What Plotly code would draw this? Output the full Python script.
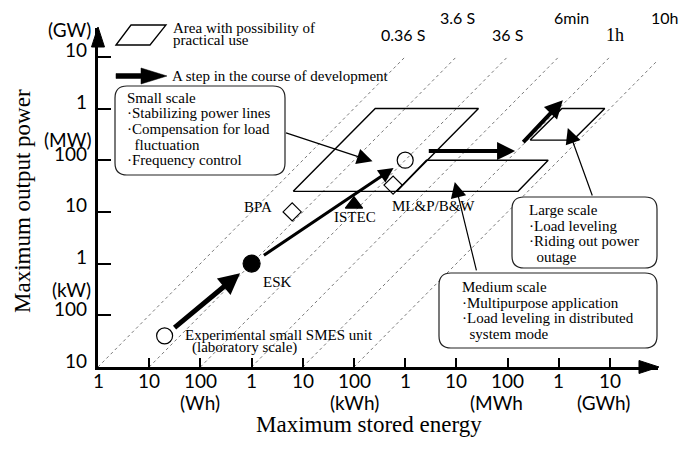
import numpy as np
import plotly.graph_objects as go

# ---------------- data ----------------
time_const_s = [0.36, 3.6, 36, 360, 3600, 36000]
time_labels = ["0.36 S", "3.6 S", "36 S", "6min", "1h", "10h"]
power_low_w, power_high_w = 1e4, 1e10

x_tick_wh = [10, 100, 1e3, 1e4, 1e5, 1e6, 1e7, 1e8, 1e9, 1e10]
x_label_wh = [1, 10, 100, 1e3, 1e4, 1e5, 1e6, 1e7, 1e8, 1e9, 1e10]
x_label_text = ["1", "10", "100", "1", "10", "100", "1", "10", "100", "1", "10"]
x_unit_text = ["(Wh)", "(kWh)", "(MWh", "(GWh)"]
x_unit_wh = [100, 1e5, 6.2e7, 7.3e9]

y_tick_w = [1e5, 1e6, 1e7, 1e8, 1e9, 1e10]
y_label_w = [1e4, 1e5, 1e6, 1e7, 1e8, 1e9, 1e10]
y_label_text = ["10", "100", "1", "10", "100", "1", "10"]
y_unit_text = ["(kW)", "(MW)", "(GW)"]
y_unit_w = [3.2e5, 2.5e8, 3.3e10]

# SMES systems
sys_names = ["Experimental small SMES unit", "ESK", "BPA", "ISTEC", "ML&P/B&W", ""]
sys_energy_wh = [20, 1e3, 6.2e3, 1e5, 5.8e5, 1e6]
sys_power_w = [4e4, 1e6, 1e7, 1.4e7, 3.3e7, 1e8]
sys_symbol = ["circle-open", "circle", "diamond-open", "triangle-up", "diamond-open", "circle-open"]

# areas with possibility of practical use (parallelograms)
area_small_e = [6.5e3, 2.6e5, 2.7e7, 6.8e5]
area_small_p = [2.5e7, 1e9, 1e9, 2.5e7]
area_medium_e = [6.8e5, 2.6e6, 6.2e8, 1.6e8]
area_medium_p = [2.5e7, 1e8, 1e8, 2.5e7]
area_large_e = [2.75e8, 1.15e9, 7.9e9, 1.9e9]
area_large_p = [2.45e8, 1e9, 1e9, 2.45e8]

# development steps (thick arrows)
step_from_e = [20, 1e3, 2.7e6, 1.9e8]
step_from_p = [4e4, 1e6, 1.5e8, 2.1e8]
step_to_e = [1e3, 1e6, 1.4e8, 1.2e9]
step_to_p = [1e6, 1e8, 1.5e8, 1.45e9]

# callout arrow tips (scale boxes -> areas)
callout_e = [2.3e5, 9.3e6, 1.5e9]
callout_p = [9.5e7, 3.8e7, 4.2e8]

small_lines = ["Small scale", "\u00b7Stabilizing power lines", "\u00b7Compensation for load",
               "  fluctuation", "\u00b7Frequency control"]
medium_lines = ["Medium scale", "\u00b7Multipurpose application",
                "\u00b7Load leveling in distributed", "  system mode"]
large_lines = ["Large scale", "\u00b7Load leveling", "\u00b7Riding out power", "  outage"]

# ---------------- layout helpers ----------------
W, H = 686, 453
L, R, T, B = 98, 28, 28, 86
PW, PH = W - L - R, H - T - B
XR = [0, PW / 51.2]
YR = [4, 4 + PH / 51.7]

SERIF = "Liberation Serif, Times New Roman, serif"
SANS = "Lato, DejaVu Sans, sans-serif"


def px(x):
    return (x - L) / PW


def py(y):
    return (H - B - y) / PH


def lg(v):
    return float(np.log10(v))


def lgx_paper(v):
    return (lg(v) - XR[0]) / (XR[1] - XR[0])


fig = go.Figure()

# constant-time dotted lines
for t in time_const_s:
    e0 = power_low_w * t / 3600.0
    e1 = power_high_w * t / 3600.0
    fig.add_trace(go.Scatter(x=[e0, e1], y=[power_low_w, power_high_w], mode="lines",
                             line=dict(color="#555", width=0.8, dash="dot"),
                             hoverinfo="skip"))

# parallelograms
for ae, ap in [(area_small_e, area_small_p), (area_medium_e, area_medium_p),
               (area_large_e, area_large_p)]:
    fig.add_trace(go.Scatter(x=ae + ae[:1], y=ap + ap[:1], mode="lines",
                             line=dict(color="black", width=1.4), hoverinfo="skip"))

# markers
for e, p, s in zip(sys_energy_wh, sys_power_w, sys_symbol):
    size = 16 if "circle" in s else (14 if "diamond" in s else 15)
    if s == "circle":
        size = 17
    fig.add_trace(go.Scatter(x=[e], y=[p], mode="markers",
                             marker=dict(symbol=s, size=size, color="black",
                                         line=dict(color="black", width=1.2)),
                             hoverinfo="skip", cliponaxis=False))

ann = []
shapes = []


def text_ann(x, y, text, xref="paper", yref="paper", xanchor="center", size=15,
             family=SERIF, **kw):
    d = dict(x=x, y=y, xref=xref, yref=yref, text=text, showarrow=False,
             xanchor=xanchor, yanchor="middle",
             font=dict(family=family, size=size, color="black"))
    d.update(kw)
    ann.append(d)


# development step arrows
step_style = [dict(w=5, s=0.85, so=15, sso=11),
              dict(w=3, s=1.0, so=14, sso=13),
              dict(w=4, s=0.9, so=0, sso=0),
              dict(w=4, s=0.9, so=0, sso=0)]
for fe, fp, te, tp, st in zip(step_from_e, step_from_p, step_to_e, step_to_p, step_style):
    ann.append(dict(x=lg(te), y=lg(tp), ax=lg(fe), ay=lg(fp), xref="x", yref="y",
                    axref="x", ayref="y", text="", showarrow=True, arrowhead=2,
                    arrowwidth=st["w"], arrowsize=st["s"], arrowcolor="black",
                    standoff=st["so"], startstandoff=st["sso"]))

# callout arrows (tail offsets in pixels)
callout_off = [(-88, -29), (22, 90), (25, 69)]
for ce, cp, (ox, oy) in zip(callout_e, callout_p, callout_off):
    ann.append(dict(x=lg(ce), y=lg(cp), xref="x", yref="y", ax=ox, ay=oy, text="",
                    showarrow=True, arrowhead=2, arrowwidth=1.2, arrowsize=2.6,
                    arrowcolor="black"))

# system labels
label_shift = [None, (26, -18), (-34, 5), (1, -13), (40, -21), None]
for name, e, p, sh in zip(sys_names, sys_energy_wh, sys_power_w, label_shift):
    if sh is None:
        continue
    text_ann(lg(e), lg(p), name, xref="x", yref="y", xshift=sh[0], yshift=sh[1])
text_ann(lg(sys_energy_wh[0]), lg(sys_power_w[0]), sys_names[0], xref="x", yref="y",
         xanchor="left", xshift=18, yshift=1)
text_ann(lg(sys_energy_wh[0]), lg(sys_power_w[0]), "(laboratory scale)", xref="x", yref="y",
         xanchor="left", xshift=25, yshift=-12)

# time-constant labels
tl_shift = [-2, 1, 0, 13, 5, 4]
tl_y = [35, 17, 35, 17, 35, 17]
for t, lab, xs, yy in zip(time_const_s, time_labels, tl_shift, tl_y):
    fam = SERIF if lab == "1h" else SANS
    text_ann(lgx_paper(power_high_w * t / 3600.0), py(yy), lab, xshift=xs,
             family=fam, size=16 if fam == SANS else 18)

# tick labels
for v, tx in zip(x_label_wh, x_label_text):
    text_ann(lgx_paper(v), py(380), tx, family=SANS, size=19)
for v, tx in zip(x_unit_wh, x_unit_text):
    text_ann(lgx_paper(v), py(402), tx, family=SANS, size=19)
for v, tx in zip(y_label_w, y_label_text):
    text_ann(px(89), lg(v), tx, yref="y", xanchor="right", family=SANS, size=19, yshift=7)
for v, tx in zip(y_unit_w, y_unit_text):
    text_ann(px(93), lg(v), tx, yref="y", xanchor="right", family=SANS, size=19)

# axis titles
text_ann(px(369), py(424), "Maximum stored energy", size=23)
text_ann(px(22), py(201), "Maximum output power", size=23, textangle=-90)


def path_px(points, close=True):
    s = "M " + " L ".join(f"{px(x):.5f},{py(y):.5f}" for x, y in points)
    return s + (" Z" if close else "")


def rounded_box(x0, y0, x1, y1, r):
    P = lambda x, y: f"{px(x):.5f},{py(y):.5f}"
    return (f"M {P(x0 + r, y0)} L {P(x1 - r, y0)} Q {P(x1, y0)} {P(x1, y0 + r)} "
            f"L {P(x1, y1 - r)} Q {P(x1, y1)} {P(x1 - r, y1)} L {P(x0 + r, y1)} "
            f"Q {P(x0, y1)} {P(x0, y1 - r)} L {P(x0, y0 + r)} Q {P(x0, y0)} {P(x0 + r, y0)} Z")


# axis arrowheads
shapes.append(dict(type="path", xref="paper", yref="paper", layer="above",
                   path=path_px([(98, 27), (91.5, 47), (104.5, 47)]),
                   fillcolor="black", line=dict(color="black", width=1)))
shapes.append(dict(type="path", xref="paper", yref="paper", layer="above",
                   path=path_px([(659, 367), (639, 360.5), (639, 373.5)]),
                   fillcolor="black", line=dict(color="black", width=1)))

# legend icons
shapes.append(dict(type="path", xref="paper", yref="paper", layer="above",
                   path=path_px([(116, 45), (131, 25), (166, 25), (150, 45)]),
                   fillcolor="rgba(0,0,0,0)", line=dict(color="black", width=1.3)))
shapes.append(dict(type="path", xref="paper", yref="paper", layer="above",
                   path=path_px([(116, 73.5), (141, 73.5), (141, 68), (167, 76), (141, 84),
                                 (141, 78.5), (116, 78.5)]),
                   fillcolor="black", line=dict(color="black", width=0.5)))
legend_text = [("Area with possibility of", 171, 28), ("practical use", 171, 40),
               ("A step in the course of development", 170, 76)]
for tx, x, y in legend_text:
    text_ann(px(x), py(y), tx, xanchor="left")

# scale boxes
boxes = [((115, 86, 285, 175), small_lines, 125, 98),
         ((439, 273, 657, 348), medium_lines, 460, 287),
         ((512, 197, 657, 268), large_lines, 527, 210)]
for (x0, y0, x1, y1), lines, tx0, ty0 in boxes:
    shapes.append(dict(type="path", xref="paper", yref="paper", layer="above",
                       path=rounded_box(x0, y0, x1, y1, 12), fillcolor="white",
                       line=dict(color="#222", width=1.2)))
    for i, ln in enumerate(lines):
        text_ann(px(tx0), py(ty0 + i * 15.5), ln.replace("  ", "&nbsp;&nbsp;"),
                 xanchor="left")

fig.update_layout(
    width=W, height=H, margin=dict(l=L, r=R, t=T, b=B, pad=0),
    paper_bgcolor="white", plot_bgcolor="white", showlegend=False,
    xaxis=dict(type="log", range=XR, showline=True, linewidth=2.5, linecolor="black",
               ticks="inside", ticklen=9, tickwidth=2, tickcolor="black",
               tickvals=x_tick_wh, showticklabels=False, showgrid=False, zeroline=False),
    yaxis=dict(type="log", range=YR, showline=True, linewidth=2.5, linecolor="black",
               ticks="inside", ticklen=13, tickwidth=2, tickcolor="black",
               tickvals=y_tick_w, showticklabels=False, showgrid=False, zeroline=False),
    annotations=ann, shapes=shapes,
)

fig.write_html("out.html")
